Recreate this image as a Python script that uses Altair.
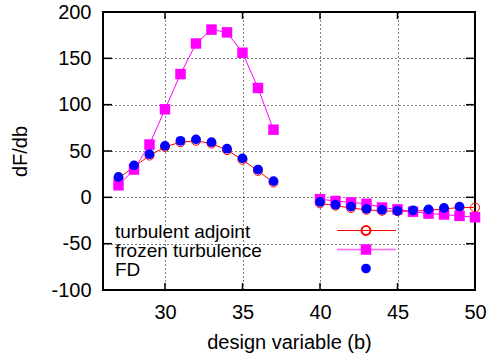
import altair as alt
import pandas as pd

# ---- data ----
x_left = [27, 28, 29, 30, 31, 32, 33, 34, 35, 36, 37]
x_right = [40, 41, 42, 43, 44, 45, 46, 47, 48, 49, 50]

adjoint_left = [20.5, 33, 45, 54.5, 59.5, 61, 58, 51, 40.5, 28.5, 16]
adjoint_right = [-6.5, -9, -11.5, -13.5, -14.5, -15, -15, -14, -12.5, -11, -11]

frozen_left = [13, 30, 57, 95, 133, 166, 181, 178, 156, 118, 73]
frozen_right = [-2, -4, -5.5, -7, -11, -13, -15.5, -17.5, -18.5, -20, -21.5]

fd_left = [22, 34.5, 46.5, 55.5, 61, 62.5, 59.5, 52.5, 42, 30, 17.5]
fd_right_x = [40, 41, 42, 43, 44, 45, 46, 47, 48, 49]
fd_right = [-5, -8, -10, -12.5, -13.5, -14.5, -14, -13, -11.5, -10]

series_names = ["turbulent adjoint", "frozen turbulence", "FD"]
x_ticks = [30, 35, 40, 45, 50]
y_ticks = [-100, -50, 0, 50, 100, 150, 200]

W, H = 372, 278
FONT = "Liberation Sans"
RED, MAG, BLUE = "#ff0000", "#ff00ff", "#0000ff"


def frame(xl, yl, xr, yr):
    return pd.DataFrame({
        "b": list(xl) + list(xr),
        "v": list(yl) + list(yr),
        "seg": ["L"] * len(xl) + ["R"] * len(xr),
    })


adj = frame(x_left, adjoint_left, x_right, adjoint_right)
fro = frame(x_left, frozen_left, x_right, frozen_right)
fd = frame(x_left, fd_left, fd_right_x, fd_right)

xs = alt.Scale(domain=[26, 50], nice=False, zero=False)
ys = alt.Scale(domain=[-100, 200], nice=False, zero=False)

axis_common = dict(
    domain=False, ticks=False, grid=True, gridColor="black", gridDash=[1, 3],
    gridWidth=1, gridOpacity=1, labelFont=FONT, labelFontSize=20,
    labelColor="black", titleFont=FONT, titleFontSize=20,
    titleFontWeight="normal", titleColor="black", labelOverlap=False,
    labelFlush=False, labelBound=False, labelExpr="'' + datum.value",
)

X = alt.X("b:Q", scale=xs, axis=alt.Axis(values=x_ticks, title="design variable (b)",
                                        labelPadding=12, titlePadding=10, **axis_common))
Y = alt.Y("v:Q", scale=ys, axis=alt.Axis(values=y_ticks, title="dF/db",
                                        labelPadding=12, titlePadding=20, **axis_common))

adj_line = alt.Chart(adj).mark_line(color=RED, strokeWidth=1).encode(x=X, y=Y, detail="seg:N")
adj_pts = alt.Chart(adj).mark_point(shape="circle", filled=False, color=RED, size=80,
                                    strokeWidth=1, opacity=1).encode(x=X, y=Y)
fro_line = alt.Chart(fro).mark_line(color=MAG, strokeWidth=1).encode(x=X, y=Y, detail="seg:N")
fro_pts = alt.Chart(fro).mark_point(shape="square", filled=True, color=MAG, size=110,
                                    opacity=1).encode(x=X, y=Y)
fd_pts = alt.Chart(fd).mark_point(shape="circle", filled=True, color=BLUE, size=95,
                                  opacity=1).encode(x=X, y=Y)

# inward ticks on all four sides
yt = pd.DataFrame({"v": y_ticks})
xt = pd.DataFrame({"b": x_ticks})
tick_l = alt.Chart(yt).mark_rule(color="black", strokeWidth=1.5).encode(
    y=alt.Y("v:Q", scale=ys), x=alt.value(0), x2=alt.value(9))
tick_r = alt.Chart(yt).mark_rule(color="black", strokeWidth=1.5).encode(
    y=alt.Y("v:Q", scale=ys), x=alt.value(W - 9), x2=alt.value(W))
tick_b = alt.Chart(xt).mark_rule(color="black", strokeWidth=1.5).encode(
    x=alt.X("b:Q", scale=xs), y=alt.value(H - 7), y2=alt.value(H))
tick_t = alt.Chart(xt).mark_rule(color="black", strokeWidth=1.5).encode(
    x=alt.X("b:Q", scale=xs), y=alt.value(0), y2=alt.value(7))

# manual gnuplot-style legend (text left, sample right)
one = pd.DataFrame({"k": [0]})
leg_x_text = 12
leg_rows = [225.5, 244.5, 263.5]
leg_sample = (234, 293, 263)
legend_layers = []
for name, yb in zip(series_names, leg_rows):
    legend_layers.append(alt.Chart(one).mark_text(
        align="left", baseline="alphabetic", font=FONT, fontSize=19, color="black"
    ).encode(x=alt.value(leg_x_text), y=alt.value(yb), text=alt.value(name)))
ym = [r - 7 for r in leg_rows]
legend_layers += [
    alt.Chart(one).mark_rule(stroke=RED, strokeWidth=1.2).encode(
        x=alt.value(leg_sample[0]), x2=alt.value(leg_sample[1]), y=alt.value(ym[0])),
    alt.Chart(one).mark_point(shape="circle", filled=False, color=RED, size=80, opacity=1).encode(
        x=alt.value(leg_sample[2]), y=alt.value(ym[0])),
    alt.Chart(one).mark_rule(stroke="#ff66ff", strokeWidth=1.6).encode(
        x=alt.value(leg_sample[0]), x2=alt.value(leg_sample[1]), y=alt.value(ym[1])),
    alt.Chart(one).mark_point(shape="square", filled=True, color=MAG, size=110, opacity=1).encode(
        x=alt.value(leg_sample[2]), y=alt.value(ym[1])),
    alt.Chart(one).mark_point(shape="circle", filled=True, color=BLUE, size=95, opacity=1).encode(
        x=alt.value(leg_sample[2]), y=alt.value(ym[2])),
]

chart = alt.layer(
    adj_line, adj_pts, fro_line, fro_pts, fd_pts,
    tick_l, tick_r, tick_b, tick_t, *legend_layers
).properties(
    width=W, height=H,
    padding={"left": 103, "top": 12, "right": 14, "bottom": 68},
    autosize=alt.AutoSizeParams(type="none"),
    background="white",
).configure_view(stroke="black", strokeWidth=2)

chart.save("out.html", embed_options={"renderer": "svg", "actions": False})
